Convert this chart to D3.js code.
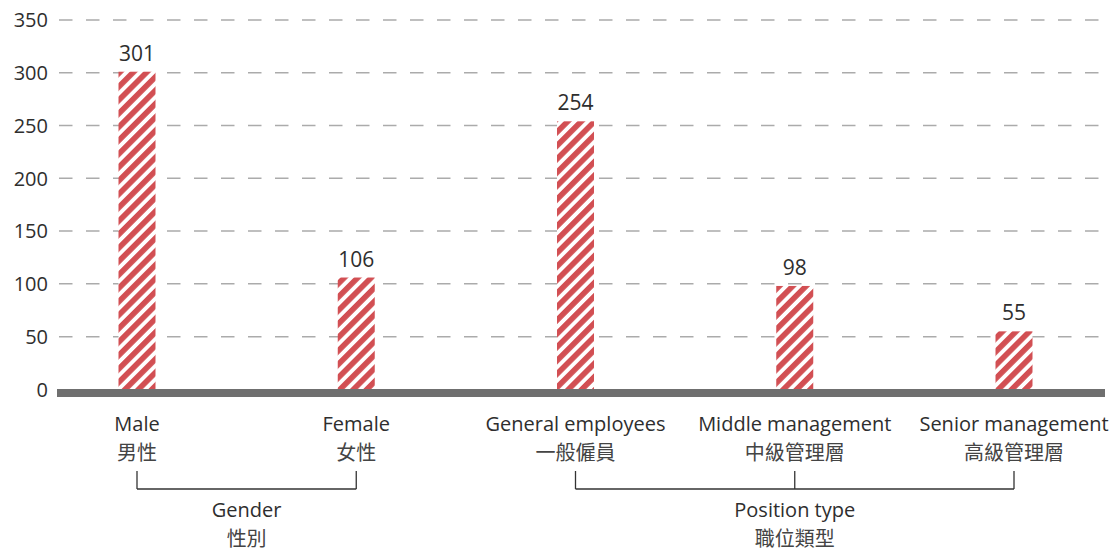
<!DOCTYPE html>
<html><head><meta charset="utf-8">
<script src="https://cdn.jsdelivr.net/npm/d3@7"></script>
<style>
body{margin:0;background:#fff;}
svg text{font-family:"Open Sans","Noto Sans","Noto Sans CJK TC",sans-serif;fill:#2e2e2e;}
svg text.zh{font-family:"Noto Sans CJK TC",sans-serif;fill:#444;}
</style></head>
<body><svg id="c" width="1114" height="551"></svg>
<script>
const categories = ["Male","Female","General employees","Middle management","Senior management"];
const categoriesZh = ["男性","女性","一般僱員","中級管理層","高級管理層"];
const values = [301,106,254,98,55];
const yTicks = [0,50,100,150,200,250,300,350];
const groups = [
  {en:"Gender", zh:"性別", members:["Male","Female"]},
  {en:"Position type", zh:"職位類型", members:["General employees","Middle management","Senior management"]}
];

const svg = d3.select("#c");
const y = d3.scaleLinear().domain([0,350]).range([389.4,20]);
const x = d3.scalePoint().domain(categories).range([137,1014]);
const barW = 37;
const red = "#d24f53";

const defs = svg.append("defs");
const pat = defs.append("pattern").attr("id","stripes").attr("patternUnits","userSpaceOnUse")
  .attr("width",9.5).attr("height",9.5).attr("patternTransform","rotate(45)");
pat.append("rect").attr("width",9.5).attr("height",9.5).attr("fill","#fff");
pat.append("rect").attr("width",5.6).attr("height",9.5).attr("fill",red);

// gridlines
svg.append("g").selectAll("line").data(yTicks.filter(d=>d>0)).join("line")
  .attr("x1",59).attr("x2",1105).attr("y1",d=>y(d)).attr("y2",d=>y(d))
  .attr("stroke","#ababab").attr("stroke-width",1.5).attr("stroke-dasharray","13.5 13.5");

// y labels
svg.append("g").selectAll("text").data(yTicks).join("text")
  .attr("x",48).attr("y",d=>y(d)).attr("dy","0.36em").attr("text-anchor","end")
  .attr("font-size",20).text(d=>d);

// bars
svg.append("g").selectAll("rect").data(values).join("rect")
  .attr("x",(d,i)=>x(categories[i])-barW/2).attr("width",barW)
  .attr("y",d=>y(d)).attr("height",d=>y(0)-y(d)).attr("fill","url(#stripes)");

// baseline
svg.append("rect").attr("x",57).attr("width",1105-57).attr("y",389).attr("height",8).attr("fill","#6f6f6f");

// value labels
svg.append("g").selectAll("text").data(values).join("text")
  .attr("x",(d,i)=>x(categories[i])).attr("y",d=>y(d)-11).attr("text-anchor","middle")
  .attr("font-size",21).text(d=>d);

// category labels
const cl = svg.append("g");
cl.selectAll("text.en").data(categories).join("text").attr("class","en")
  .attr("x",d=>x(d)).attr("y",431).attr("text-anchor","middle").attr("font-size",20).text(d=>d);
cl.selectAll("text.zh").data(categoriesZh).join("text").attr("class","zh")
  .attr("x",(d,i)=>x(categories[i])).attr("y",460).attr("text-anchor","middle").attr("font-size",20).text(d=>d);

// group brackets
groups.forEach(g=>{
  const xs = g.members.map(m=>x(m));
  const x0 = d3.min(xs), x1 = d3.max(xs);
  const top = 471, bot = 489;
  const gg = svg.append("g").attr("stroke","#333").attr("stroke-width",1.3).attr("fill","none");
  gg.append("line").attr("x1",x0).attr("x2",x1).attr("y1",bot).attr("y2",bot);
  xs.forEach(v=>gg.append("line").attr("x1",v).attr("x2",v).attr("y1",top).attr("y2",bot));
  const cx = (x0+x1)/2;
  svg.append("text").attr("x",cx).attr("y",517).attr("text-anchor","middle").attr("font-size",20).text(g.en);
  svg.append("text").attr("class","zh").attr("x",cx).attr("y",546).attr("text-anchor","middle").attr("font-size",20).text(g.zh);
});
</script></body></html>
